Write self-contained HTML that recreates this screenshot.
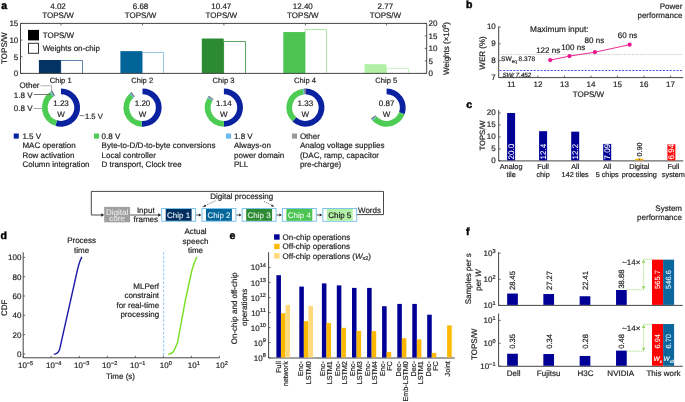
<!DOCTYPE html>
<html><head><meta charset="utf-8"><style>
html,body{margin:0;padding:0;background:#fff;}
body{width:685px;height:402px;overflow:hidden;}
svg{display:block;font-family:"Liberation Sans",sans-serif;will-change:transform;text-rendering:geometricPrecision;}
</style></head><body>
<svg width="685" height="402" viewBox="0 0 685 402">
<rect width="685" height="402" fill="#fff"/>
<text x="1.20" y="9.00" font-size="10.5" text-anchor="start" fill="#000" stroke="#000" stroke-width="0.45" font-weight="bold">a</text>
<path d="M60.70,73.40 V60.50 H82.50 V73.40" stroke="#4a72a0" fill="none" stroke-width="0.9" />
<rect x="38.90" y="60.00" width="21.90" height="13.40" fill="#033263" />
<text x="58.00" y="9.00" font-size="8" text-anchor="middle" fill="#231f20" stroke="#231f20" stroke-width="0.2" >4.02</text>
<text x="58.00" y="17.80" font-size="8" text-anchor="middle" fill="#231f20" stroke="#231f20" stroke-width="0.2" >TOPS/W</text>
<line x1="61.00" y1="23.40" x2="61.00" y2="25.40" stroke="#454545" stroke-width="0.8" />
<path d="M142.20,73.40 V52.50 H163.50 V73.40" stroke="#8fc0de" fill="none" stroke-width="0.9" />
<rect x="120.40" y="51.13" width="21.90" height="22.27" fill="#03649a" />
<text x="140.50" y="9.00" font-size="8" text-anchor="middle" fill="#231f20" stroke="#231f20" stroke-width="0.2" >6.68</text>
<text x="140.50" y="17.80" font-size="8" text-anchor="middle" fill="#231f20" stroke="#231f20" stroke-width="0.2" >TOPS/W</text>
<line x1="142.50" y1="23.40" x2="142.50" y2="25.40" stroke="#454545" stroke-width="0.8" />
<path d="M223.60,73.40 V41.50 H245.50 V73.40" stroke="#4a9e50" fill="none" stroke-width="0.9" />
<rect x="201.80" y="38.50" width="21.90" height="34.90" fill="#2c8a33" />
<text x="221.30" y="9.00" font-size="8" text-anchor="middle" fill="#231f20" stroke="#231f20" stroke-width="0.2" >10.47</text>
<text x="221.30" y="17.80" font-size="8" text-anchor="middle" fill="#231f20" stroke="#231f20" stroke-width="0.2" >TOPS/W</text>
<line x1="223.90" y1="23.40" x2="223.90" y2="25.40" stroke="#454545" stroke-width="0.8" />
<path d="M305.10,73.40 V29.50 H326.50 V73.40" stroke="#a2e6a2" fill="none" stroke-width="0.9" />
<rect x="283.30" y="32.07" width="21.90" height="41.33" fill="#4bc451" />
<text x="302.80" y="9.00" font-size="8" text-anchor="middle" fill="#231f20" stroke="#231f20" stroke-width="0.2" >12.40</text>
<text x="302.80" y="17.80" font-size="8" text-anchor="middle" fill="#231f20" stroke="#231f20" stroke-width="0.2" >TOPS/W</text>
<line x1="305.40" y1="23.40" x2="305.40" y2="25.40" stroke="#454545" stroke-width="0.8" />
<path d="M386.30,73.40 V68.50 H408.50 V73.40" stroke="#c4f4bc" fill="none" stroke-width="0.9" />
<rect x="364.50" y="64.17" width="21.90" height="9.23" fill="#b2f0a6" />
<text x="385.40" y="9.00" font-size="8" text-anchor="middle" fill="#231f20" stroke="#231f20" stroke-width="0.2" >2.77</text>
<text x="385.40" y="17.80" font-size="8" text-anchor="middle" fill="#231f20" stroke="#231f20" stroke-width="0.2" >TOPS/W</text>
<line x1="386.60" y1="23.40" x2="386.60" y2="25.40" stroke="#454545" stroke-width="0.8" />
<path d="M20.5,73.4 L20.5,23.4 L426.7,23.4 L426.7,73.4 Z" stroke="#454545" fill="none" stroke-width="1" />
<line x1="20.50" y1="73.40" x2="22.50" y2="73.40" stroke="#454545" stroke-width="0.8" />
<text x="18.30" y="76.30" font-size="8" text-anchor="end" fill="#231f20" stroke="#231f20" stroke-width="0.2" >0</text>
<line x1="20.50" y1="56.73" x2="22.50" y2="56.73" stroke="#454545" stroke-width="0.8" />
<text x="18.30" y="59.63" font-size="8" text-anchor="end" fill="#231f20" stroke="#231f20" stroke-width="0.2" >5</text>
<line x1="20.50" y1="40.07" x2="22.50" y2="40.07" stroke="#454545" stroke-width="0.8" />
<text x="18.30" y="42.97" font-size="8" text-anchor="end" fill="#231f20" stroke="#231f20" stroke-width="0.2" >10</text>
<line x1="20.50" y1="23.40" x2="22.50" y2="23.40" stroke="#454545" stroke-width="0.8" />
<text x="18.30" y="26.30" font-size="8" text-anchor="end" fill="#231f20" stroke="#231f20" stroke-width="0.2" >15</text>
<line x1="424.70" y1="73.40" x2="426.70" y2="73.40" stroke="#454545" stroke-width="0.8" />
<text x="428.60" y="76.30" font-size="8" text-anchor="start" fill="#231f20" stroke="#231f20" stroke-width="0.2" >0</text>
<line x1="424.70" y1="60.90" x2="426.70" y2="60.90" stroke="#454545" stroke-width="0.8" />
<text x="428.60" y="63.80" font-size="8" text-anchor="start" fill="#231f20" stroke="#231f20" stroke-width="0.2" >5</text>
<line x1="424.70" y1="48.40" x2="426.70" y2="48.40" stroke="#454545" stroke-width="0.8" />
<text x="428.60" y="51.30" font-size="8" text-anchor="start" fill="#231f20" stroke="#231f20" stroke-width="0.2" >10</text>
<line x1="424.70" y1="35.90" x2="426.70" y2="35.90" stroke="#454545" stroke-width="0.8" />
<text x="428.60" y="38.80" font-size="8" text-anchor="start" fill="#231f20" stroke="#231f20" stroke-width="0.2" >15</text>
<line x1="424.70" y1="23.40" x2="426.70" y2="23.40" stroke="#454545" stroke-width="0.8" />
<text x="428.60" y="26.30" font-size="8" text-anchor="start" fill="#231f20" stroke="#231f20" stroke-width="0.2" >20</text>
<text transform="translate(7.20,48.20) rotate(-90)" font-size="8" text-anchor="middle" fill="#231f20" stroke="#231f20" stroke-width="0.2" >TOPS/W</text>
<text transform="translate(449.00,48.50) rotate(-90)" font-size="8" text-anchor="middle" fill="#231f20" stroke="#231f20" stroke-width="0.2" >Weights (×10<tspan dy="-3" font-size="5.5">6</tspan><tspan dy="3">)</tspan></text>
<rect x="28.00" y="29.90" width="11.00" height="10.50" fill="#000" />
<rect x="28.5" y="43.3" width="10.0" height="10.0" fill="#fff" stroke="#333" stroke-width="1"/>
<text x="42.70" y="38.00" font-size="8" text-anchor="start" fill="#231f20" stroke="#231f20" stroke-width="0.2" >TOPS/W</text>
<text x="42.70" y="51.00" font-size="8" text-anchor="start" fill="#231f20" stroke="#231f20" stroke-width="0.2" >Weights on-chip</text>
<text x="60.70" y="82.70" font-size="7.6" text-anchor="middle" fill="#231f20" stroke="#231f20" stroke-width="0.2" >Chip 1</text>
<text x="142.20" y="82.70" font-size="7.6" text-anchor="middle" fill="#231f20" stroke="#231f20" stroke-width="0.2" >Chip 2</text>
<text x="223.60" y="82.70" font-size="7.6" text-anchor="middle" fill="#231f20" stroke="#231f20" stroke-width="0.2" >Chip 3</text>
<text x="305.10" y="82.70" font-size="7.6" text-anchor="middle" fill="#231f20" stroke="#231f20" stroke-width="0.2" >Chip 4</text>
<text x="386.30" y="82.70" font-size="7.6" text-anchor="middle" fill="#231f20" stroke="#231f20" stroke-width="0.2" >Chip 5</text>
<path d="M61.00,88.50 A19.1,19.1 0 1 1 55.42,125.87 L57.11,120.32 A13.3,13.3 0 1 0 61.00,94.30 Z" stroke="none" fill="#0a22a0" stroke-width="1" />
<path d="M55.42,125.87 A19.1,19.1 0 0 1 50.04,91.95 L53.37,96.71 A13.3,13.3 0 0 0 57.11,120.32 Z" stroke="none" fill="#4ccc52" stroke-width="1" />
<path d="M50.04,91.95 A19.1,19.1 0 0 1 51.02,91.31 L54.05,96.26 A13.3,13.3 0 0 0 53.37,96.71 Z" stroke="none" fill="#5fb0ee" stroke-width="1" />
<path d="M51.02,91.31 A19.1,19.1 0 0 1 52.33,90.58 L54.96,95.75 A13.3,13.3 0 0 0 54.05,96.26 Z" stroke="none" fill="#707070" stroke-width="1" />
<text x="61.00" y="106.40" font-size="8" text-anchor="middle" fill="#231f20" stroke="#231f20" stroke-width="0.2" >1.23</text>
<text x="61.00" y="116.60" font-size="8" text-anchor="middle" fill="#231f20" stroke="#231f20" stroke-width="0.2" >W</text>
<path d="M142.50,88.50 A19.1,19.1 0 1 1 141.50,126.67 L141.80,120.88 A13.3,13.3 0 1 0 142.50,94.30 Z" stroke="none" fill="#0a22a0" stroke-width="1" />
<path d="M141.50,126.67 A19.1,19.1 0 0 1 129.47,93.63 L133.43,97.87 A13.3,13.3 0 0 0 141.80,120.88 Z" stroke="none" fill="#4ccc52" stroke-width="1" />
<path d="M129.47,93.63 A19.1,19.1 0 0 1 130.35,92.86 L134.04,97.34 A13.3,13.3 0 0 0 133.43,97.87 Z" stroke="none" fill="#5fb0ee" stroke-width="1" />
<path d="M130.35,92.86 A19.1,19.1 0 0 1 131.54,91.95 L134.87,96.71 A13.3,13.3 0 0 0 134.04,97.34 Z" stroke="none" fill="#707070" stroke-width="1" />
<text x="142.50" y="106.40" font-size="8" text-anchor="middle" fill="#231f20" stroke="#231f20" stroke-width="0.2" >1.20</text>
<text x="142.50" y="116.60" font-size="8" text-anchor="middle" fill="#231f20" stroke="#231f20" stroke-width="0.2" >W</text>
<path d="M223.90,88.50 A19.1,19.1 0 0 1 223.90,126.70 L223.90,120.90 A13.3,13.3 0 0 0 223.90,94.30 Z" stroke="none" fill="#0a22a0" stroke-width="1" />
<path d="M223.90,126.70 A19.1,19.1 0 0 1 207.53,97.76 L212.50,100.75 A13.3,13.3 0 0 0 223.90,120.90 Z" stroke="none" fill="#4ccc52" stroke-width="1" />
<path d="M207.53,97.76 A19.1,19.1 0 0 1 208.16,96.78 L212.94,100.07 A13.3,13.3 0 0 0 212.50,100.75 Z" stroke="none" fill="#5fb0ee" stroke-width="1" />
<path d="M208.16,96.78 A19.1,19.1 0 0 1 208.97,95.68 L213.51,99.30 A13.3,13.3 0 0 0 212.94,100.07 Z" stroke="none" fill="#707070" stroke-width="1" />
<text x="223.90" y="106.40" font-size="8" text-anchor="middle" fill="#231f20" stroke="#231f20" stroke-width="0.2" >1.14</text>
<text x="223.90" y="116.60" font-size="8" text-anchor="middle" fill="#231f20" stroke="#231f20" stroke-width="0.2" >W</text>
<path d="M305.40,88.50 A19.1,19.1 0 1 1 292.37,121.57 L296.33,117.33 A13.3,13.3 0 1 0 305.40,94.30 Z" stroke="none" fill="#0a22a0" stroke-width="1" />
<path d="M292.37,121.57 A19.1,19.1 0 0 1 303.07,88.64 L303.78,94.40 A13.3,13.3 0 0 0 296.33,117.33 Z" stroke="none" fill="#4ccc52" stroke-width="1" />
<path d="M303.07,88.64 A19.1,19.1 0 0 1 304.07,88.55 L304.47,94.33 A13.3,13.3 0 0 0 303.78,94.40 Z" stroke="none" fill="#5fb0ee" stroke-width="1" />
<path d="M304.07,88.55 A19.1,19.1 0 0 1 305.40,88.50 L305.40,94.30 A13.3,13.3 0 0 0 304.47,94.33 Z" stroke="none" fill="#707070" stroke-width="1" />
<text x="305.40" y="106.40" font-size="8" text-anchor="middle" fill="#231f20" stroke="#231f20" stroke-width="0.2" >1.33</text>
<text x="305.40" y="116.60" font-size="8" text-anchor="middle" fill="#231f20" stroke="#231f20" stroke-width="0.2" >W</text>
<path d="M386.60,88.50 A19.1,19.1 0 0 1 404.55,114.13 L399.10,112.15 A13.3,13.3 0 0 0 386.60,94.30 Z" stroke="none" fill="#0a22a0" stroke-width="1" />
<path d="M404.55,114.13 A19.1,19.1 0 0 1 372.41,120.38 L376.72,116.50 A13.3,13.3 0 0 0 399.10,112.15 Z" stroke="none" fill="#4ccc52" stroke-width="1" />
<path d="M372.41,120.38 A19.1,19.1 0 0 1 371.76,119.62 L376.26,115.97 A13.3,13.3 0 0 0 376.72,116.50 Z" stroke="none" fill="#5fb0ee" stroke-width="1" />
<path d="M371.76,119.62 A19.1,19.1 0 0 1 370.86,118.42 L375.64,115.13 A13.3,13.3 0 0 0 376.26,115.97 Z" stroke="none" fill="#707070" stroke-width="1" />
<text x="386.60" y="106.40" font-size="8" text-anchor="middle" fill="#231f20" stroke="#231f20" stroke-width="0.2" >0.87</text>
<text x="386.60" y="116.60" font-size="8" text-anchor="middle" fill="#231f20" stroke="#231f20" stroke-width="0.2" >W</text>
<text x="39.50" y="88.00" font-size="8" text-anchor="end" fill="#231f20" stroke="#231f20" stroke-width="0.2" >Other</text>
<path d="M40.5,85.8 L51.6,85.8 L51.6,91.2" stroke="#a8a8a8" fill="none" stroke-width="0.9" />
<text x="32.50" y="97.70" font-size="8" text-anchor="end" fill="#231f20" stroke="#231f20" stroke-width="0.2" >1.8 V</text>
<line x1="33.80" y1="94.50" x2="50.50" y2="94.50" stroke="#6a6a6a" stroke-width="0.9" />
<text x="32.50" y="111.30" font-size="8" text-anchor="end" fill="#231f20" stroke="#231f20" stroke-width="0.2" >0.8 V</text>
<line x1="33.80" y1="108.50" x2="42.20" y2="108.50" stroke="#9a9a9a" stroke-width="0.9" />
<text x="85.00" y="118.50" font-size="7.6" text-anchor="start" fill="#231f20" stroke="#231f20" stroke-width="0.2" >1.5 V</text>
<line x1="79.60" y1="115.70" x2="84.30" y2="115.70" stroke="#6a6a6a" stroke-width="0.9" />
<rect x="13.70" y="133.50" width="5.10" height="5.10" fill="#0a22a0" />
<text x="22.40" y="138.90" font-size="8" text-anchor="start" fill="#231f20" stroke="#231f20" stroke-width="0.2" >1.5 V</text>
<text x="22.40" y="148.20" font-size="8" text-anchor="start" fill="#231f20" stroke="#231f20" stroke-width="0.2" >MAC operation</text>
<text x="22.40" y="157.50" font-size="8" text-anchor="start" fill="#231f20" stroke="#231f20" stroke-width="0.2" >Row activation</text>
<text x="22.40" y="166.80" font-size="8" text-anchor="start" fill="#231f20" stroke="#231f20" stroke-width="0.2" >Column integration</text>
<rect x="94.00" y="133.50" width="5.10" height="5.10" fill="#4ccc52" />
<text x="101.60" y="138.90" font-size="8" text-anchor="start" fill="#231f20" stroke="#231f20" stroke-width="0.2" >0.8 V</text>
<text x="101.60" y="148.20" font-size="8" text-anchor="start" fill="#231f20" stroke="#231f20" stroke-width="0.2" >Byte-to-D/D-to-byte conversions</text>
<text x="101.60" y="157.50" font-size="8" text-anchor="start" fill="#231f20" stroke="#231f20" stroke-width="0.2" >Local controller</text>
<text x="101.60" y="166.80" font-size="8" text-anchor="start" fill="#231f20" stroke="#231f20" stroke-width="0.2" >D transport, Clock tree</text>
<rect x="226.00" y="133.50" width="5.10" height="5.10" fill="#6ab8f2" />
<text x="234.00" y="138.90" font-size="8" text-anchor="start" fill="#231f20" stroke="#231f20" stroke-width="0.2" >1.8 V</text>
<text x="234.00" y="148.20" font-size="8" text-anchor="start" fill="#231f20" stroke="#231f20" stroke-width="0.2" >Always-on</text>
<text x="234.00" y="157.50" font-size="8" text-anchor="start" fill="#231f20" stroke="#231f20" stroke-width="0.2" >power domain</text>
<text x="234.00" y="166.80" font-size="8" text-anchor="start" fill="#231f20" stroke="#231f20" stroke-width="0.2" >PLL</text>
<rect x="291.90" y="133.50" width="5.10" height="5.10" fill="#9a9a9a" />
<text x="299.90" y="138.90" font-size="8" text-anchor="start" fill="#231f20" stroke="#231f20" stroke-width="0.2" >Other</text>
<text x="299.90" y="148.20" font-size="8" text-anchor="start" fill="#231f20" stroke="#231f20" stroke-width="0.2" >Analog voltage supplies</text>
<text x="299.90" y="157.50" font-size="8" text-anchor="start" fill="#231f20" stroke="#231f20" stroke-width="0.2" >(DAC, ramp, capacitor</text>
<text x="299.90" y="166.80" font-size="8" text-anchor="start" fill="#231f20" stroke="#231f20" stroke-width="0.2" >pre-charge)</text>
<path d="M356.7,214.6 L383.5,214.6 L383.5,191.4 L91.3,191.4 L91.3,215.0 L101.5,215.0" stroke="#333" fill="none" stroke-width="0.9" />
<path d="M104.20,215.00 L101.20,213.35 L101.20,216.65 Z" stroke="none" fill="#222" stroke-width="1" />
<rect x="104.20" y="206.90" width="25.90" height="15.40" fill="#a0a0a0" />
<text x="117.15" y="214.60" font-size="8" text-anchor="middle" fill="#eeeeee" stroke="#eeeeee" stroke-width="0.05" >Digital</text>
<text x="117.15" y="221.20" font-size="8" text-anchor="middle" fill="#eeeeee" stroke="#eeeeee" stroke-width="0.05" >core</text>
<line x1="130.10" y1="215.00" x2="158.50" y2="215.00" stroke="#444" stroke-width="0.9" />
<path d="M161.20,215.00 L158.20,213.35 L158.20,216.65 Z" stroke="none" fill="#222" stroke-width="1" />
<text x="145.80" y="212.60" font-size="8" text-anchor="middle" fill="#231f20" stroke="#231f20" stroke-width="0.2" >Input</text>
<text x="145.80" y="221.80" font-size="8" text-anchor="middle" fill="#231f20" stroke="#231f20" stroke-width="0.2" >frames</text>
<rect x="161.70" y="208.5" width="33.9" height="12.8" fill="#fff" stroke="#7fc4ea" stroke-width="1"/>
<rect x="165.70" y="209.00" width="25.90" height="11.80" fill="#00305f" />
<text x="178.65" y="218.00" font-size="8" text-anchor="middle" fill="#e6eef6" stroke="#e6eef6" stroke-width="0.1" >Chip 1</text>
<line x1="196.10" y1="215.00" x2="199.10" y2="215.00" stroke="#444" stroke-width="0.9" />
<path d="M201.50,215.00 L198.90,213.57 L198.90,216.43 Z" stroke="none" fill="#222" stroke-width="1" />
<rect x="202.00" y="208.5" width="33.9" height="12.8" fill="#fff" stroke="#7fc4ea" stroke-width="1"/>
<rect x="206.00" y="209.00" width="25.90" height="11.80" fill="#05669c" />
<text x="218.95" y="218.00" font-size="8" text-anchor="middle" fill="#e6f0f8" stroke="#e6f0f8" stroke-width="0.1" >Chip 2</text>
<line x1="236.40" y1="215.00" x2="239.30" y2="215.00" stroke="#444" stroke-width="0.9" />
<path d="M241.70,215.00 L239.10,213.57 L239.10,216.43 Z" stroke="none" fill="#222" stroke-width="1" />
<rect x="242.20" y="208.5" width="33.9" height="12.8" fill="#fff" stroke="#7fc4ea" stroke-width="1"/>
<rect x="246.20" y="209.00" width="25.90" height="11.80" fill="#2c8a33" />
<text x="259.15" y="218.00" font-size="8" text-anchor="middle" fill="#e6f4e6" stroke="#e6f4e6" stroke-width="0.1" >Chip 3</text>
<line x1="276.60" y1="215.00" x2="279.50" y2="215.00" stroke="#444" stroke-width="0.9" />
<path d="M281.90,215.00 L279.30,213.57 L279.30,216.43 Z" stroke="none" fill="#222" stroke-width="1" />
<rect x="282.40" y="208.5" width="33.9" height="12.8" fill="#fff" stroke="#7fc4ea" stroke-width="1"/>
<rect x="286.40" y="209.00" width="25.90" height="11.80" fill="#4bc451" />
<text x="299.35" y="218.00" font-size="8" text-anchor="middle" fill="#eefaee" stroke="#eefaee" stroke-width="0.1" >Chip 4</text>
<line x1="316.80" y1="215.00" x2="319.90" y2="215.00" stroke="#444" stroke-width="0.9" />
<path d="M322.30,215.00 L319.70,213.57 L319.70,216.43 Z" stroke="none" fill="#222" stroke-width="1" />
<rect x="322.80" y="208.5" width="33.9" height="12.8" fill="#fff" stroke="#7fc4ea" stroke-width="1"/>
<rect x="326.80" y="209.00" width="25.90" height="11.80" fill="#b2f0a6" />
<text x="339.75" y="218.00" font-size="8" text-anchor="middle" fill="#1a1a1a" stroke="#1a1a1a" stroke-width="0.2" >Chip 5</text>
<text x="358.00" y="212.80" font-size="8" text-anchor="start" fill="#231f20" stroke="#231f20" stroke-width="0.2" >Words</text>
<text x="241.70" y="199.00" font-size="8" text-anchor="middle" fill="#231f20" stroke="#231f20" stroke-width="0.2" >Digital processing</text>
<path d="M215.5,200.8 L204.5,206.0" stroke="#444" fill="none" stroke-width="0.7" stroke-dasharray="1.2,0.9"/>
<path d="M202.3,207.2 L205.4,204.6 L206.0,206.6 Z" stroke="none" fill="#222" stroke-width="1" />
<path d="M263.9,201.4 L272.5,205.4" stroke="#444" fill="none" stroke-width="0.7" stroke-dasharray="1.2,0.9"/>
<path d="M274.6,206.6 L270.9,206.4 L271.9,204.6 Z" stroke="none" fill="#222" stroke-width="1" />
<text x="466.10" y="8.20" font-size="10.5" text-anchor="start" fill="#000" stroke="#000" stroke-width="0.45" font-weight="bold">b</text>
<text x="682.40" y="8.80" font-size="8" text-anchor="end" fill="#231f20" stroke="#231f20" stroke-width="0.2" >Power</text>
<text x="682.40" y="18.00" font-size="8" text-anchor="end" fill="#231f20" stroke="#231f20" stroke-width="0.2" >performance</text>
<path d="M498.7,26.5 L498.7,77.6 L683.2,77.6" stroke="#454545" fill="none" stroke-width="1" />
<line x1="498.70" y1="77.40" x2="500.70" y2="77.40" stroke="#454545" stroke-width="0.8" />
<text x="495.80" y="79.60" font-size="8" text-anchor="end" fill="#231f20" stroke="#231f20" stroke-width="0.2" >7</text>
<line x1="498.70" y1="60.60" x2="500.70" y2="60.60" stroke="#454545" stroke-width="0.8" />
<text x="495.80" y="62.80" font-size="8" text-anchor="end" fill="#231f20" stroke="#231f20" stroke-width="0.2" >8</text>
<line x1="498.70" y1="43.80" x2="500.70" y2="43.80" stroke="#454545" stroke-width="0.8" />
<text x="495.80" y="46.00" font-size="8" text-anchor="end" fill="#231f20" stroke="#231f20" stroke-width="0.2" >9</text>
<line x1="498.70" y1="27.00" x2="500.70" y2="27.00" stroke="#454545" stroke-width="0.8" />
<text x="495.80" y="29.20" font-size="8" text-anchor="end" fill="#231f20" stroke="#231f20" stroke-width="0.2" >10</text>
<line x1="511.40" y1="77.60" x2="511.40" y2="75.60" stroke="#454545" stroke-width="0.8" />
<text x="511.40" y="86.80" font-size="8" text-anchor="middle" fill="#231f20" stroke="#231f20" stroke-width="0.2" >11</text>
<line x1="537.92" y1="77.60" x2="537.92" y2="75.60" stroke="#454545" stroke-width="0.8" />
<text x="537.92" y="86.80" font-size="8" text-anchor="middle" fill="#231f20" stroke="#231f20" stroke-width="0.2" >12</text>
<line x1="564.44" y1="77.60" x2="564.44" y2="75.60" stroke="#454545" stroke-width="0.8" />
<text x="564.44" y="86.80" font-size="8" text-anchor="middle" fill="#231f20" stroke="#231f20" stroke-width="0.2" >13</text>
<line x1="590.96" y1="77.60" x2="590.96" y2="75.60" stroke="#454545" stroke-width="0.8" />
<text x="590.96" y="86.80" font-size="8" text-anchor="middle" fill="#231f20" stroke="#231f20" stroke-width="0.2" >14</text>
<line x1="617.48" y1="77.60" x2="617.48" y2="75.60" stroke="#454545" stroke-width="0.8" />
<text x="617.48" y="86.80" font-size="8" text-anchor="middle" fill="#231f20" stroke="#231f20" stroke-width="0.2" >15</text>
<line x1="644.00" y1="77.60" x2="644.00" y2="75.60" stroke="#454545" stroke-width="0.8" />
<text x="644.00" y="86.80" font-size="8" text-anchor="middle" fill="#231f20" stroke="#231f20" stroke-width="0.2" >16</text>
<line x1="670.52" y1="77.60" x2="670.52" y2="75.60" stroke="#454545" stroke-width="0.8" />
<text x="670.52" y="86.80" font-size="8" text-anchor="middle" fill="#231f20" stroke="#231f20" stroke-width="0.2" >17</text>
<text x="588.40" y="96.60" font-size="8" text-anchor="middle" fill="#231f20" stroke="#231f20" stroke-width="0.2" >TOPS/W</text>
<text transform="translate(485.20,53.00) rotate(-90)" font-size="8" text-anchor="middle" fill="#231f20" stroke="#231f20" stroke-width="0.2" >WER (%)</text>
<line x1="499.70" y1="54.50" x2="683.00" y2="54.50" stroke="#c4c4c4" stroke-width="0.8" stroke-dasharray="1.6,1.1"/>
<line x1="499.70" y1="70.50" x2="683.00" y2="70.50" stroke="#5252f0" stroke-width="1.0" stroke-dasharray="2.1,1.3"/>
<text x="501.00" y="60.70" font-size="6.6" text-anchor="start" fill="#231f20" stroke="#231f20" stroke-width="0.2" >SW<tspan font-size="4.6" dy="2.2">eq</tspan><tspan dy="-2.2"> 8.378</tspan></text>
<text x="502.40" y="76.50" font-size="6.2" text-anchor="start" fill="#231f20" stroke="#231f20" stroke-width="0.2" font-style="italic">SW<tspan font-size="5" dy="0.6">(</tspan><tspan dy="-0.6"> 7.452</tspan></text>
<path d="M550.2,60.1 L569.5,56.1 L594.9,52.2 L629.6,44.7" stroke="#ee2a93" fill="none" stroke-width="1.0" />
<circle cx="550.2" cy="60.1" r="2.1" fill="#ec168c"/>
<circle cx="569.5" cy="56.1" r="2.1" fill="#ec168c"/>
<circle cx="594.9" cy="52.2" r="2.1" fill="#ec168c"/>
<circle cx="629.6" cy="44.7" r="2.1" fill="#ec168c"/>
<text x="530.00" y="32.10" font-size="8.3" text-anchor="start" fill="#231f20" stroke="#231f20" stroke-width="0.2" >Maximum input:</text>
<text x="548.20" y="52.90" font-size="8" text-anchor="middle" fill="#231f20" stroke="#231f20" stroke-width="0.2" >122 ns</text>
<text x="573.20" y="50.30" font-size="8" text-anchor="middle" fill="#231f20" stroke="#231f20" stroke-width="0.2" >100 ns</text>
<text x="594.40" y="43.20" font-size="8" text-anchor="middle" fill="#231f20" stroke="#231f20" stroke-width="0.2" >80 ns</text>
<text x="627.60" y="37.80" font-size="8" text-anchor="middle" fill="#231f20" stroke="#231f20" stroke-width="0.2" >60 ns</text>
<text x="466.30" y="107.80" font-size="10.5" text-anchor="start" fill="#000" stroke="#000" stroke-width="0.45" font-weight="bold">c</text>
<path d="M498.7,110.0 L498.7,160.9 L683.3,160.9" stroke="#454545" fill="none" stroke-width="1" />
<line x1="498.70" y1="160.90" x2="500.70" y2="160.90" stroke="#454545" stroke-width="0.8" />
<text x="495.60" y="163.20" font-size="8" text-anchor="end" fill="#231f20" stroke="#231f20" stroke-width="0.2" >0</text>
<line x1="498.70" y1="148.93" x2="500.70" y2="148.93" stroke="#454545" stroke-width="0.8" />
<text x="495.60" y="151.23" font-size="8" text-anchor="end" fill="#231f20" stroke="#231f20" stroke-width="0.2" >5</text>
<line x1="498.70" y1="136.95" x2="500.70" y2="136.95" stroke="#454545" stroke-width="0.8" />
<text x="495.60" y="139.25" font-size="8" text-anchor="end" fill="#231f20" stroke="#231f20" stroke-width="0.2" >10</text>
<line x1="498.70" y1="124.98" x2="500.70" y2="124.98" stroke="#454545" stroke-width="0.8" />
<text x="495.60" y="127.28" font-size="8" text-anchor="end" fill="#231f20" stroke="#231f20" stroke-width="0.2" >15</text>
<line x1="498.70" y1="113.00" x2="500.70" y2="113.00" stroke="#454545" stroke-width="0.8" />
<text x="495.60" y="115.30" font-size="8" text-anchor="end" fill="#231f20" stroke="#231f20" stroke-width="0.2" >20</text>
<text transform="translate(484.80,135.50) rotate(-90)" font-size="7.6" text-anchor="middle" fill="#231f20" stroke="#231f20" stroke-width="0.2" >TOPS/W</text>
<rect x="507.10" y="113.00" width="8.00" height="47.40" fill="#000096" />
<text transform="translate(514.00,159.40) rotate(-90)" font-size="8" text-anchor="start" fill="#fff" stroke="#fff" stroke-width="0.08" >20.0</text>
<text x="511.10" y="168.60" font-size="7.3" text-anchor="middle" fill="#231f20" stroke="#231f20" stroke-width="0.2" >Analog</text>
<text x="511.10" y="177.20" font-size="7.3" text-anchor="middle" fill="#231f20" stroke="#231f20" stroke-width="0.2" >tile</text>
<rect x="539.10" y="131.20" width="8.00" height="29.20" fill="#000096" />
<text transform="translate(546.00,159.40) rotate(-90)" font-size="8" text-anchor="start" fill="#fff" stroke="#fff" stroke-width="0.08" >12.4</text>
<text x="543.10" y="168.60" font-size="7.3" text-anchor="middle" fill="#231f20" stroke="#231f20" stroke-width="0.2" >Full</text>
<text x="543.10" y="177.20" font-size="7.3" text-anchor="middle" fill="#231f20" stroke="#231f20" stroke-width="0.2" >chip</text>
<rect x="571.20" y="131.68" width="8.00" height="28.72" fill="#000096" />
<text transform="translate(578.10,159.40) rotate(-90)" font-size="8" text-anchor="start" fill="#fff" stroke="#fff" stroke-width="0.08" >12.2</text>
<text x="575.20" y="168.60" font-size="7.3" text-anchor="middle" fill="#231f20" stroke="#231f20" stroke-width="0.2" >All</text>
<text x="575.20" y="177.20" font-size="7.3" text-anchor="middle" fill="#231f20" stroke="#231f20" stroke-width="0.2" >142 tiles</text>
<rect x="603.20" y="143.92" width="8.00" height="16.48" fill="#000096" />
<text transform="translate(610.10,159.40) rotate(-90)" font-size="8" text-anchor="start" fill="#fff" stroke="#fff" stroke-width="0.08" >7.09</text>
<text x="607.20" y="168.60" font-size="7.3" text-anchor="middle" fill="#231f20" stroke="#231f20" stroke-width="0.2" >All</text>
<text x="607.20" y="177.20" font-size="7.3" text-anchor="middle" fill="#231f20" stroke="#231f20" stroke-width="0.2" >5 chips</text>
<rect x="635.30" y="158.74" width="8.00" height="1.66" fill="#f7b500" />
<text transform="translate(642.00,156.60) rotate(-90)" font-size="7.2" text-anchor="start" fill="#231f20" stroke="#231f20" stroke-width="0.2" >0.90</text>
<line x1="639.30" y1="158.24" x2="639.30" y2="160.24" stroke="#222" stroke-width="0.6" />
<text x="639.30" y="168.60" font-size="7.3" text-anchor="middle" fill="#231f20" stroke="#231f20" stroke-width="0.2" >Digital</text>
<text x="639.30" y="177.20" font-size="7.3" text-anchor="middle" fill="#231f20" stroke="#231f20" stroke-width="0.2" >processing</text>
<rect x="667.40" y="144.28" width="8.00" height="16.12" fill="#fe0a0a" />
<text transform="translate(674.30,159.40) rotate(-90)" font-size="8" text-anchor="start" fill="#fff" stroke="#fff" stroke-width="0.08" >6.94</text>
<text x="673.40" y="168.60" font-size="7.3" text-anchor="middle" fill="#231f20" stroke="#231f20" stroke-width="0.2" >Full</text>
<text x="673.40" y="177.20" font-size="7.3" text-anchor="middle" fill="#231f20" stroke="#231f20" stroke-width="0.2" >system</text>
<text x="682.00" y="210.60" font-size="8" text-anchor="end" fill="#231f20" stroke="#231f20" stroke-width="0.2" >System</text>
<text x="682.00" y="219.90" font-size="8" text-anchor="end" fill="#231f20" stroke="#231f20" stroke-width="0.2" >performance</text>
<text x="0.60" y="238.70" font-size="10.5" text-anchor="start" fill="#000" stroke="#000" stroke-width="0.45" font-weight="bold">d</text>
<path d="M23.2,252.2 L23.2,357.8 L219.41,357.8" stroke="#454545" fill="none" stroke-width="1" />
<line x1="23.20" y1="353.90" x2="25.20" y2="353.90" stroke="#454545" stroke-width="0.8" />
<text x="21.40" y="356.80" font-size="8" text-anchor="end" fill="#231f20" stroke="#231f20" stroke-width="0.2" >0</text>
<line x1="23.20" y1="334.60" x2="25.20" y2="334.60" stroke="#454545" stroke-width="0.8" />
<text x="21.40" y="337.50" font-size="8" text-anchor="end" fill="#231f20" stroke="#231f20" stroke-width="0.2" >20</text>
<line x1="23.20" y1="315.30" x2="25.20" y2="315.30" stroke="#454545" stroke-width="0.8" />
<text x="21.40" y="318.20" font-size="8" text-anchor="end" fill="#231f20" stroke="#231f20" stroke-width="0.2" >40</text>
<line x1="23.20" y1="296.00" x2="25.20" y2="296.00" stroke="#454545" stroke-width="0.8" />
<text x="21.40" y="298.90" font-size="8" text-anchor="end" fill="#231f20" stroke="#231f20" stroke-width="0.2" >60</text>
<line x1="23.20" y1="276.70" x2="25.20" y2="276.70" stroke="#454545" stroke-width="0.8" />
<text x="21.40" y="279.60" font-size="8" text-anchor="end" fill="#231f20" stroke="#231f20" stroke-width="0.2" >80</text>
<line x1="23.20" y1="257.40" x2="25.20" y2="257.40" stroke="#454545" stroke-width="0.8" />
<text x="21.40" y="260.30" font-size="8" text-anchor="end" fill="#231f20" stroke="#231f20" stroke-width="0.2" >100</text>
<line x1="23.20" y1="357.80" x2="23.20" y2="355.80" stroke="#454545" stroke-width="0.8" />
<text x="25.60" y="368.00" font-size="8" text-anchor="middle" fill="#231f20" stroke="#231f20" stroke-width="0.2" >10<tspan dy="-3.2" font-size="5.6">−5</tspan></text>
<line x1="51.23" y1="357.80" x2="51.23" y2="355.80" stroke="#454545" stroke-width="0.8" />
<text x="53.63" y="368.00" font-size="8" text-anchor="middle" fill="#231f20" stroke="#231f20" stroke-width="0.2" >10<tspan dy="-3.2" font-size="5.6">−4</tspan></text>
<line x1="79.26" y1="357.80" x2="79.26" y2="355.80" stroke="#454545" stroke-width="0.8" />
<text x="81.66" y="368.00" font-size="8" text-anchor="middle" fill="#231f20" stroke="#231f20" stroke-width="0.2" >10<tspan dy="-3.2" font-size="5.6">−3</tspan></text>
<line x1="107.29" y1="357.80" x2="107.29" y2="355.80" stroke="#454545" stroke-width="0.8" />
<text x="109.69" y="368.00" font-size="8" text-anchor="middle" fill="#231f20" stroke="#231f20" stroke-width="0.2" >10<tspan dy="-3.2" font-size="5.6">−2</tspan></text>
<line x1="135.32" y1="357.80" x2="135.32" y2="355.80" stroke="#454545" stroke-width="0.8" />
<text x="137.72" y="368.00" font-size="8" text-anchor="middle" fill="#231f20" stroke="#231f20" stroke-width="0.2" >10<tspan dy="-3.2" font-size="5.6">−1</tspan></text>
<line x1="163.35" y1="357.80" x2="163.35" y2="355.80" stroke="#454545" stroke-width="0.8" />
<text x="165.75" y="368.00" font-size="8" text-anchor="middle" fill="#231f20" stroke="#231f20" stroke-width="0.2" >10<tspan dy="-3.2" font-size="5.6">0</tspan></text>
<line x1="191.38" y1="357.80" x2="191.38" y2="355.80" stroke="#454545" stroke-width="0.8" />
<text x="193.78" y="368.00" font-size="8" text-anchor="middle" fill="#231f20" stroke="#231f20" stroke-width="0.2" >10<tspan dy="-3.2" font-size="5.6">1</tspan></text>
<line x1="219.41" y1="357.80" x2="219.41" y2="355.80" stroke="#454545" stroke-width="0.8" />
<text x="221.81" y="368.00" font-size="8" text-anchor="middle" fill="#231f20" stroke="#231f20" stroke-width="0.2" >10<tspan dy="-3.2" font-size="5.6">2</tspan></text>
<text x="120.50" y="378.80" font-size="8" text-anchor="middle" fill="#231f20" stroke="#231f20" stroke-width="0.2" >Time (s)</text>
<text transform="translate(7.40,307.80) rotate(-90)" font-size="8" text-anchor="middle" fill="#231f20" stroke="#231f20" stroke-width="0.2" >CDF</text>
<text x="81.60" y="243.00" font-size="8" text-anchor="middle" fill="#231f20" stroke="#231f20" stroke-width="0.2" >Process</text>
<text x="81.60" y="252.60" font-size="8" text-anchor="middle" fill="#231f20" stroke="#231f20" stroke-width="0.2" >time</text>
<text x="195.50" y="233.70" font-size="8" text-anchor="middle" fill="#231f20" stroke="#231f20" stroke-width="0.2" >Actual</text>
<text x="195.50" y="243.90" font-size="8" text-anchor="middle" fill="#231f20" stroke="#231f20" stroke-width="0.2" >speech</text>
<text x="195.50" y="252.60" font-size="8" text-anchor="middle" fill="#231f20" stroke="#231f20" stroke-width="0.2" >time</text>
<text x="159.10" y="288.80" font-size="8" text-anchor="end" fill="#231f20" stroke="#231f20" stroke-width="0.2" >MLPerf</text>
<text x="159.10" y="298.25" font-size="8" text-anchor="end" fill="#231f20" stroke="#231f20" stroke-width="0.2" >constraint</text>
<text x="159.10" y="307.70" font-size="8" text-anchor="end" fill="#231f20" stroke="#231f20" stroke-width="0.2" >for real-time</text>
<text x="159.10" y="317.15" font-size="8" text-anchor="end" fill="#231f20" stroke="#231f20" stroke-width="0.2" >processing</text>
<line x1="163.60" y1="252.00" x2="163.60" y2="357.30" stroke="#80c0f4" stroke-width="0.9" stroke-dasharray="2.6,1.6"/>
<path d="M53.8,354.1 Q57.8,354.3 59.6,349.5 L77.3,270.5 Q79.3,261.5 81.9,256.8" stroke="#1c1ca6" fill="none" stroke-width="1.4" />
<path d="M168.1,354.1 Q171.5,354.1 173.4,351.8 Q175.5,348 177.6,342.3 L185.4,300 L192,270 Q194,262.5 196.9,256.9" stroke="#78e024" fill="none" stroke-width="1.4" />
<text x="229.40" y="238.70" font-size="10.5" text-anchor="start" fill="#000" stroke="#000" stroke-width="0.45" font-weight="bold">e</text>
<path d="M268.6,252.2 L268.6,358.0 L454.7,358.0" stroke="#454545" fill="none" stroke-width="1" />
<line x1="268.60" y1="357.70" x2="270.60" y2="357.70" stroke="#454545" stroke-width="0.8" />
<text x="265.90" y="360.60" font-size="8" text-anchor="end" fill="#231f20" stroke="#231f20" stroke-width="0.2" >10<tspan dy="-3.2" font-size="5.6">8</tspan></text>
<line x1="268.60" y1="342.68" x2="270.60" y2="342.68" stroke="#454545" stroke-width="0.8" />
<text x="265.90" y="345.58" font-size="8" text-anchor="end" fill="#231f20" stroke="#231f20" stroke-width="0.2" >10<tspan dy="-3.2" font-size="5.6">9</tspan></text>
<line x1="268.60" y1="327.66" x2="270.60" y2="327.66" stroke="#454545" stroke-width="0.8" />
<text x="265.90" y="330.56" font-size="8" text-anchor="end" fill="#231f20" stroke="#231f20" stroke-width="0.2" >10<tspan dy="-3.2" font-size="5.6">10</tspan></text>
<line x1="268.60" y1="312.64" x2="270.60" y2="312.64" stroke="#454545" stroke-width="0.8" />
<text x="265.90" y="315.54" font-size="8" text-anchor="end" fill="#231f20" stroke="#231f20" stroke-width="0.2" >10<tspan dy="-3.2" font-size="5.6">11</tspan></text>
<line x1="268.60" y1="297.62" x2="270.60" y2="297.62" stroke="#454545" stroke-width="0.8" />
<text x="265.90" y="300.52" font-size="8" text-anchor="end" fill="#231f20" stroke="#231f20" stroke-width="0.2" >10<tspan dy="-3.2" font-size="5.6">12</tspan></text>
<line x1="268.60" y1="282.60" x2="270.60" y2="282.60" stroke="#454545" stroke-width="0.8" />
<text x="265.90" y="285.50" font-size="8" text-anchor="end" fill="#231f20" stroke="#231f20" stroke-width="0.2" >10<tspan dy="-3.2" font-size="5.6">13</tspan></text>
<line x1="268.60" y1="267.58" x2="270.60" y2="267.58" stroke="#454545" stroke-width="0.8" />
<text x="265.90" y="270.48" font-size="8" text-anchor="end" fill="#231f20" stroke="#231f20" stroke-width="0.2" >10<tspan dy="-3.2" font-size="5.6">14</tspan></text>
<rect x="276.40" y="275.20" width="4.55" height="82.30" fill="#000096" />
<rect x="280.95" y="313.30" width="4.55" height="44.20" fill="#ffb800" />
<rect x="285.50" y="304.90" width="4.55" height="52.60" fill="#ffd97a" />
<rect x="299.30" y="286.60" width="4.55" height="70.90" fill="#000096" />
<rect x="303.85" y="321.20" width="4.55" height="36.30" fill="#ffb800" />
<rect x="308.40" y="305.90" width="4.55" height="51.60" fill="#ffd97a" />
<rect x="321.90" y="283.40" width="4.55" height="74.10" fill="#000096" />
<rect x="326.45" y="323.00" width="4.55" height="34.50" fill="#ffb800" />
<rect x="336.80" y="285.40" width="4.55" height="72.10" fill="#000096" />
<rect x="341.35" y="327.80" width="4.55" height="29.70" fill="#ffb800" />
<rect x="352.00" y="287.90" width="4.55" height="69.60" fill="#000096" />
<rect x="356.55" y="330.90" width="4.55" height="26.60" fill="#ffb800" />
<rect x="367.10" y="287.90" width="4.55" height="69.60" fill="#000096" />
<rect x="371.65" y="331.10" width="4.55" height="26.40" fill="#ffb800" />
<rect x="382.10" y="306.20" width="4.55" height="51.30" fill="#000096" />
<rect x="386.65" y="351.90" width="4.55" height="5.60" fill="#ffb800" />
<rect x="397.30" y="303.90" width="4.55" height="53.60" fill="#000096" />
<rect x="401.85" y="338.20" width="4.55" height="19.30" fill="#ffb800" />
<rect x="412.30" y="303.90" width="4.55" height="53.60" fill="#000096" />
<rect x="416.85" y="339.40" width="4.55" height="18.10" fill="#ffb800" />
<rect x="427.20" y="314.70" width="4.55" height="42.80" fill="#000096" />
<rect x="431.75" y="352.90" width="4.55" height="4.60" fill="#ffb800" />
<rect x="447.10" y="325.40" width="4.60" height="32.10" fill="#ffb800" />
<rect x="274.10" y="234.30" width="5.50" height="5.40" fill="#000096" />
<rect x="274.10" y="243.80" width="5.50" height="5.30" fill="#ffb800" />
<rect x="274.10" y="253.20" width="5.50" height="5.40" fill="#ffd97a" />
<text x="282.60" y="239.60" font-size="8" text-anchor="start" fill="#231f20" stroke="#231f20" stroke-width="0.2" >On-chip operations</text>
<text x="282.60" y="249.10" font-size="8" text-anchor="start" fill="#231f20" stroke="#231f20" stroke-width="0.2" >Off-chip operations</text>
<text x="282.60" y="258.60" font-size="8" text-anchor="start" fill="#231f20" stroke="#231f20" stroke-width="0.2" >Off-chip operations (<tspan font-style="italic">W</tspan><tspan font-size="5.5" dy="1.8">x2</tspan><tspan dy="-1.8">)</tspan></text>
<text transform="translate(237.30,308.30) rotate(-90)" font-size="8" text-anchor="middle" fill="#231f20" stroke="#231f20" stroke-width="0.2" >On-chip and off-chip</text>
<text transform="translate(247.40,307.40) rotate(-90)" font-size="8" text-anchor="middle" fill="#231f20" stroke="#231f20" stroke-width="0.2" >operations</text>
<text transform="translate(280.80,361.20) rotate(-90)" font-size="7.2" text-anchor="end" fill="#231f20" stroke="#231f20" stroke-width="0.2" >Full</text>
<text transform="translate(287.90,361.20) rotate(-90)" font-size="7.2" text-anchor="end" fill="#231f20" stroke="#231f20" stroke-width="0.2" >network</text>
<text transform="translate(303.20,361.20) rotate(-90)" font-size="7.2" text-anchor="end" fill="#231f20" stroke="#231f20" stroke-width="0.2" >Enc-</text>
<text transform="translate(310.80,361.20) rotate(-90)" font-size="7.2" text-anchor="end" fill="#231f20" stroke="#231f20" stroke-width="0.2" >LSTM0</text>
<text transform="translate(324.60,361.20) rotate(-90)" font-size="7.2" text-anchor="end" fill="#231f20" stroke="#231f20" stroke-width="0.2" >Enc-</text>
<text transform="translate(332.30,361.20) rotate(-90)" font-size="7.2" text-anchor="end" fill="#231f20" stroke="#231f20" stroke-width="0.2" >LSTM1</text>
<text transform="translate(340.00,361.20) rotate(-90)" font-size="7.2" text-anchor="end" fill="#231f20" stroke="#231f20" stroke-width="0.2" >Enc-</text>
<text transform="translate(347.10,361.20) rotate(-90)" font-size="7.2" text-anchor="end" fill="#231f20" stroke="#231f20" stroke-width="0.2" >LSTM2</text>
<text transform="translate(355.10,361.20) rotate(-90)" font-size="7.2" text-anchor="end" fill="#231f20" stroke="#231f20" stroke-width="0.2" >Enc-</text>
<text transform="translate(362.30,361.20) rotate(-90)" font-size="7.2" text-anchor="end" fill="#231f20" stroke="#231f20" stroke-width="0.2" >LSTM3</text>
<text transform="translate(369.80,361.20) rotate(-90)" font-size="7.2" text-anchor="end" fill="#231f20" stroke="#231f20" stroke-width="0.2" >Enc-</text>
<text transform="translate(377.00,361.20) rotate(-90)" font-size="7.2" text-anchor="end" fill="#231f20" stroke="#231f20" stroke-width="0.2" >LSTM4</text>
<text transform="translate(385.00,361.20) rotate(-90)" font-size="7.2" text-anchor="end" fill="#231f20" stroke="#231f20" stroke-width="0.2" >Enc-</text>
<text transform="translate(392.10,361.20) rotate(-90)" font-size="7.2" text-anchor="end" fill="#231f20" stroke="#231f20" stroke-width="0.2" >FC</text>
<text transform="translate(400.90,361.20) rotate(-90)" font-size="7.2" text-anchor="end" fill="#231f20" stroke="#231f20" stroke-width="0.2" >Dec-</text>
<text transform="translate(407.70,361.20) rotate(-90)" font-size="7.2" text-anchor="end" fill="#231f20" stroke="#231f20" stroke-width="0.2" >Emb-LSTM0</text>
<text transform="translate(415.70,361.20) rotate(-90)" font-size="7.2" text-anchor="end" fill="#231f20" stroke="#231f20" stroke-width="0.2" >Dec-</text>
<text transform="translate(422.60,361.20) rotate(-90)" font-size="7.2" text-anchor="end" fill="#231f20" stroke="#231f20" stroke-width="0.2" >LSTM1</text>
<text transform="translate(430.60,361.20) rotate(-90)" font-size="7.2" text-anchor="end" fill="#231f20" stroke="#231f20" stroke-width="0.2" >Dec-</text>
<text transform="translate(437.80,361.20) rotate(-90)" font-size="7.2" text-anchor="end" fill="#231f20" stroke="#231f20" stroke-width="0.2" >FC</text>
<text transform="translate(450.00,361.20) rotate(-90)" font-size="7.2" text-anchor="end" fill="#231f20" stroke="#231f20" stroke-width="0.2" >Joint</text>
<text x="465.90" y="235.40" font-size="10.5" text-anchor="start" fill="#000" stroke="#000" stroke-width="0.45" font-weight="bold">f</text>
<path d="M498.6,252.2 L498.6,305.4 L682.8,305.4" stroke="#454545" fill="none" stroke-width="1" />
<path d="M498.6,313.5 L498.6,366.3 L682.8,366.3" stroke="#454545" fill="none" stroke-width="1" />
<line x1="498.60" y1="305.40" x2="500.60" y2="305.40" stroke="#454545" stroke-width="0.8" />
<text x="495.50" y="308.30" font-size="8" text-anchor="end" fill="#231f20" stroke="#231f20" stroke-width="0.2" >10<tspan dy="-3.2" font-size="5.6">1</tspan></text>
<line x1="498.60" y1="279.30" x2="500.60" y2="279.30" stroke="#454545" stroke-width="0.8" />
<text x="495.50" y="282.20" font-size="8" text-anchor="end" fill="#231f20" stroke="#231f20" stroke-width="0.2" >10<tspan dy="-3.2" font-size="5.6">2</tspan></text>
<line x1="498.60" y1="253.20" x2="500.60" y2="253.20" stroke="#454545" stroke-width="0.8" />
<text x="495.50" y="256.10" font-size="8" text-anchor="end" fill="#231f20" stroke="#231f20" stroke-width="0.2" >10<tspan dy="-3.2" font-size="5.6">3</tspan></text>
<line x1="498.60" y1="366.20" x2="500.60" y2="366.20" stroke="#454545" stroke-width="0.8" />
<text x="495.50" y="369.10" font-size="8" text-anchor="end" fill="#231f20" stroke="#231f20" stroke-width="0.2" >10<tspan dy="-3.2" font-size="5.6">−1</tspan></text>
<line x1="498.60" y1="343.30" x2="500.60" y2="343.30" stroke="#454545" stroke-width="0.8" />
<text x="495.50" y="346.20" font-size="8" text-anchor="end" fill="#231f20" stroke="#231f20" stroke-width="0.2" >10<tspan dy="-3.2" font-size="5.6">0</tspan></text>
<line x1="498.60" y1="320.40" x2="500.60" y2="320.40" stroke="#454545" stroke-width="0.8" />
<text x="495.50" y="323.30" font-size="8" text-anchor="end" fill="#231f20" stroke="#231f20" stroke-width="0.2" >10<tspan dy="-3.2" font-size="5.6">1</tspan></text>
<rect x="507.15" y="293.55" width="10.70" height="11.35" fill="#000096" />
<rect x="507.15" y="353.74" width="10.70" height="12.06" fill="#000096" />
<text transform="translate(515.30,290.00) rotate(-90)" font-size="7.6" text-anchor="start" fill="#231f20" stroke="#231f20" stroke-width="0.2" >28.45</text>
<text transform="translate(515.30,348.80) rotate(-90)" font-size="7.6" text-anchor="start" fill="#231f20" stroke="#231f20" stroke-width="0.2" >0.35</text>
<rect x="543.35" y="294.03" width="10.70" height="10.87" fill="#000096" />
<rect x="543.35" y="354.03" width="10.70" height="11.77" fill="#000096" />
<text transform="translate(551.50,290.00) rotate(-90)" font-size="7.6" text-anchor="start" fill="#231f20" stroke="#231f20" stroke-width="0.2" >27.27</text>
<text transform="translate(551.50,348.80) rotate(-90)" font-size="7.6" text-anchor="start" fill="#231f20" stroke="#231f20" stroke-width="0.2" >0.34</text>
<rect x="579.65" y="296.25" width="10.70" height="8.65" fill="#000096" />
<rect x="579.65" y="355.96" width="10.70" height="9.84" fill="#000096" />
<text transform="translate(587.80,290.00) rotate(-90)" font-size="7.6" text-anchor="start" fill="#231f20" stroke="#231f20" stroke-width="0.2" >22.41</text>
<text transform="translate(587.80,348.80) rotate(-90)" font-size="7.6" text-anchor="start" fill="#231f20" stroke="#231f20" stroke-width="0.2" >0.28</text>
<rect x="616.05" y="290.01" width="10.70" height="14.89" fill="#000096" />
<rect x="616.05" y="350.60" width="10.70" height="15.20" fill="#000096" />
<text transform="translate(624.20,288.60) rotate(-90)" font-size="7.6" text-anchor="start" fill="#231f20" stroke="#231f20" stroke-width="0.2" >38.88</text>
<text transform="translate(624.20,348.80) rotate(-90)" font-size="7.6" text-anchor="start" fill="#231f20" stroke="#231f20" stroke-width="0.2" >0.48</text>
<rect x="652.00" y="259.66" width="11.10" height="45.24" fill="#fe0000" />
<rect x="663.10" y="259.66" width="11.00" height="45.24" fill="#0c679c" />
<rect x="652.00" y="324.03" width="11.10" height="41.77" fill="#fe0000" />
<rect x="663.10" y="324.03" width="11.00" height="41.77" fill="#0c679c" />
<text transform="translate(659.90,288.90) rotate(-90)" font-size="7.5" text-anchor="start" fill="#fff" stroke="#fff" stroke-width="0.05" >565.7</text>
<text transform="translate(670.90,288.90) rotate(-90)" font-size="7.5" text-anchor="start" fill="#eef4f8" stroke="#eef4f8" stroke-width="0.05" >546.6</text>
<text transform="translate(659.90,348.60) rotate(-90)" font-size="7.5" text-anchor="start" fill="#fff" stroke="#fff" stroke-width="0.05" >6.94</text>
<text transform="translate(670.90,348.60) rotate(-90)" font-size="7.5" text-anchor="start" fill="#eef4f8" stroke="#eef4f8" stroke-width="0.05" >6.70</text>
<text x="653.60" y="361.00" font-size="6.4" text-anchor="start" fill="#fff" stroke="#fff" stroke-width="0.2" ><tspan font-style="italic">W</tspan><tspan font-size="4.4" dy="1.8">x</tspan></text>
<text x="663.60" y="361.00" font-size="6.4" text-anchor="start" fill="#e8f0f6" stroke="#e8f0f6" stroke-width="0.2" ><tspan font-style="italic">W</tspan><tspan font-size="4.4" dy="1.8">x2</tspan></text>
<line x1="626.70" y1="289.80" x2="643.60" y2="289.80" stroke="#8fd45a" stroke-width="0.8" stroke-dasharray="1,0.8"/>
<line x1="643.60" y1="259.30" x2="652.60" y2="259.30" stroke="#8fd45a" stroke-width="0.8" stroke-dasharray="1,0.8"/>
<line x1="643.60" y1="261.30" x2="643.60" y2="287.80" stroke="#8fd45a" stroke-width="0.8" stroke-dasharray="1,0.8"/>
<path d="M643.6,259.3 L641.9,262.8 L645.3,262.8 Z" stroke="none" fill="#8fd45a" stroke-width="1" />
<path d="M643.6,289.8 L641.9,286.3 L645.3,286.3 Z" stroke="none" fill="#8fd45a" stroke-width="1" />
<line x1="626.70" y1="351.20" x2="643.60" y2="351.20" stroke="#8fd45a" stroke-width="0.8" stroke-dasharray="1,0.8"/>
<line x1="643.60" y1="324.40" x2="652.60" y2="324.40" stroke="#8fd45a" stroke-width="0.8" stroke-dasharray="1,0.8"/>
<line x1="643.60" y1="326.40" x2="643.60" y2="349.20" stroke="#8fd45a" stroke-width="0.8" stroke-dasharray="1,0.8"/>
<path d="M643.6,324.4 L641.9,327.9 L645.3,327.9 Z" stroke="none" fill="#8fd45a" stroke-width="1" />
<path d="M643.6,351.2 L641.9,347.7 L645.3,347.7 Z" stroke="none" fill="#8fd45a" stroke-width="1" />
<text x="640.40" y="265.30" font-size="8" text-anchor="end" fill="#231f20" stroke="#231f20" stroke-width="0.2" >~14×</text>
<text x="640.40" y="330.50" font-size="8" text-anchor="end" fill="#231f20" stroke="#231f20" stroke-width="0.2" >~14×</text>
<text transform="translate(471.10,278.70) rotate(-90)" font-size="8" text-anchor="middle" fill="#231f20" stroke="#231f20" stroke-width="0.2" >Samples per s</text>
<text transform="translate(480.50,280.00) rotate(-90)" font-size="8" text-anchor="middle" fill="#231f20" stroke="#231f20" stroke-width="0.2" >per <tspan font-style="italic">W</tspan></text>
<text transform="translate(477.10,344.30) rotate(-90)" font-size="8" text-anchor="middle" fill="#231f20" stroke="#231f20" stroke-width="0.2" >TOPS/W</text>
<text x="513.70" y="376.00" font-size="8" text-anchor="middle" fill="#231f20" stroke="#231f20" stroke-width="0.2" >Dell</text>
<text x="548.60" y="376.00" font-size="8" text-anchor="middle" fill="#231f20" stroke="#231f20" stroke-width="0.2" >Fujitsu</text>
<text x="585.50" y="376.00" font-size="8" text-anchor="middle" fill="#231f20" stroke="#231f20" stroke-width="0.2" >H3C</text>
<text x="620.70" y="376.00" font-size="8" text-anchor="middle" fill="#231f20" stroke="#231f20" stroke-width="0.2" >NVIDIA</text>
<text x="663.50" y="376.00" font-size="8" text-anchor="middle" fill="#231f20" stroke="#231f20" stroke-width="0.2" >This work</text>
</svg>
</body></html>
